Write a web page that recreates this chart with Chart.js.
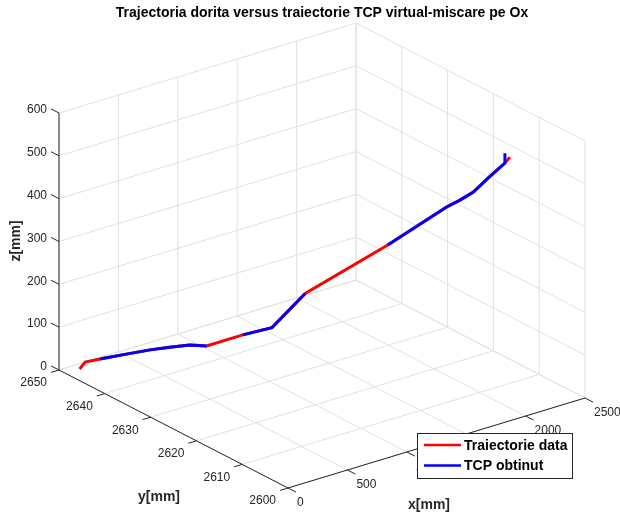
<!DOCTYPE html>
<html>
<head>
<meta charset="utf-8">
<script src="https://cdn.jsdelivr.net/npm/chart.js@4.4.1/dist/chart.umd.min.js"></script>
<style>
  html, body { margin: 0; padding: 0; background: #fff; }
  #wrap { width: 620px; height: 513px; }
</style>
</head>
<body>
<div id="wrap"><canvas id="myChart"></canvas></div>
<script>
// axis ticks (limits are first / last tick)
const xTicks = [0, 500, 1000, 1500, 2000, 2500];
const yTicks = [2600, 2610, 2620, 2630, 2640, 2650];
const zTicks = [0, 100, 200, 300, 400, 500, 600];

// Traiectorie data (desired path), mm
const xData = [120, 220, 330, 520, 690, 820, 950, 1030, 1335, 1565, 1845, 2085, 2260, 2300, 2340, 2390, 2435, 2450];
const yData = [2648.6, 2650, 2649.6, 2648.8, 2648, 2647.1, 2646.1, 2644.5, 2644.5, 2644.1, 2644.1, 2632.3, 2624, 2622.2, 2620.3, 2617.9, 2615.8, 2615.1];
const zData = [0, 0, 0, 0, 0, 0, 0, 0, 0, 0, 56, 214, 334, 356, 382, 428, 467, 483];

// TCP obtinut (measured path), mm
const xTcp = [120, 220, 330, 520, 690, 820, 950, 1030, 1335, 1565, 1845, 2085, 2260, 2300, 2340, 2390, 2435, 2435];
const yTcp = [2648.6, 2650, 2649.6, 2648.8, 2648, 2647.1, 2646.1, 2644.5, 2644.5, 2644.1, 2644.1, 2632.3, 2624, 2622.2, 2620.3, 2617.9, 2615.8, 2615.8];
const zTcp = [0, 0, 0, 0, 0, 0, 0, 0, 0, 0, 56, 214, 334, 356, 382, 428, 467, 490];

const seriesNames = ['Traiectorie data', 'TCP obtinut'];

// segments of the TCP line where the red line sits on top
const redOnTop = [0, 1, 7, 10];

// 3d view, fitted to the figure (screen units)
const view = { ox: 288, oy: 488, xx: 297, xy: -90, yx: -229, yy: -118, zy: -257 };
const X0 = xTicks[0], X1 = xTicks[xTicks.length - 1];
const Y0 = yTicks[0], Y1 = yTicks[yTicks.length - 1];
const Z0 = zTicks[0], Z1 = zTicks[zTicks.length - 1];

function project(x, y, z) {
  const nx = (x - X0) / (X1 - X0);
  const ny = (y - Y0) / (Y1 - Y0);
  const nz = (z - Z0) / (Z1 - Z0);
  return {
    x: view.ox + view.xx * nx + view.yx * ny,
    y: view.oy + view.xy * nx + view.yy * ny + view.zy * nz
  };
}

const FONT = '"Liberation Sans", Arial, Helvetica, sans-serif';
const AXIS = '#262626';
const GRID = '#e1e1e1';

const box3d = {
  id: 'box3d',
  beforeDatasetsDraw(chart) {
    const ctx = chart.ctx;
    const sx = chart.scales.x, sy = chart.scales.y;
    const P = (x, y, z) => { const p = project(x, y, z); return [sx.getPixelForValue(p.x), sy.getPixelForValue(p.y)]; };
    const line = (a, b) => {
      const p = P(...a), q = P(...b);
      ctx.beginPath(); ctx.moveTo(p[0], p[1]); ctx.lineTo(q[0], q[1]); ctx.stroke();
    };
    ctx.save();
    ctx.lineWidth = 1;
    ctx.strokeStyle = GRID;
    // back wall y = max
    xTicks.forEach(x => line([x, Y1, Z0], [x, Y1, Z1]));
    zTicks.forEach(z => line([X0, Y1, z], [X1, Y1, z]));
    // back wall x = max
    yTicks.forEach(y => line([X1, y, Z0], [X1, y, Z1]));
    zTicks.forEach(z => line([X1, Y0, z], [X1, Y1, z]));
    // floor
    xTicks.forEach(x => line([x, Y0, Z0], [x, Y1, Z0]));
    yTicks.forEach(y => line([X0, y, Z0], [X1, y, Z0]));

    // axes
    ctx.strokeStyle = AXIS;
    line([X0, Y1, Z0], [X0, Y1, Z1]);
    line([X0, Y0, Z0], [X0, Y1, Z0]);
    line([X0, Y0, Z0], [X1, Y0, Z0]);
    const tz = (Y1 - Y0) * 0.035, ty = (X1 - X0) * 0.027, tx = (Y1 - Y0) * 0.035;
    zTicks.forEach(z => line([X0, Y1, z], [X0, Y1 + tz, z]));
    yTicks.forEach(y => line([X0, y, Z0], [X0 - ty, y, Z0]));
    xTicks.forEach(x => line([x, Y0, Z0], [x, Y0 - tx, Z0]));

    // tick labels
    ctx.fillStyle = AXIS;
    ctx.font = '12px ' + FONT;
    ctx.textBaseline = 'middle';
    ctx.textAlign = 'right';
    zTicks.forEach(z => { const p = P(X0, Y1, z); ctx.fillText(String(z), p[0] - 12, p[1] - 3); });
    yTicks.forEach(y => { const p = P(X0, y, Z0); ctx.fillText(String(y), p[0] - 12, p[1] + 13); });
    ctx.textAlign = 'left';
    xTicks.forEach(x => { const p = P(x, Y0, Z0); ctx.fillText(String(x), p[0] + 9, p[1] + 15); });

    // axis titles
    ctx.font = 'bold 14px ' + FONT;
    ctx.textAlign = 'center';
    ctx.fillText('x[mm]', 429, 505);
    ctx.fillText('y[mm]', 159, 497);
    ctx.save();
    ctx.translate(16, 241);
    ctx.rotate(-Math.PI / 2);
    ctx.fillText('z[mm]', 0, 0);
    ctx.restore();

    // title
    ctx.font = 'bold 14px ' + FONT;
    ctx.fillStyle = '#000';
    ctx.fillText('Trajectoria dorita versus traiectorie TCP virtual-miscare pe Ox', 322, 13);
    ctx.restore();
  },
  afterDatasetsDraw(chart) {
    const ctx = chart.ctx;
    const ds = chart.data.datasets;
    ctx.save();
    ctx.fillStyle = '#fff';
    ctx.strokeStyle = AXIS;
    ctx.lineWidth = 1;
    ctx.fillRect(417.5, 433.5, 155, 45);
    ctx.strokeRect(417.5, 433.5, 155, 45);
    ctx.font = 'bold 14px ' + FONT;
    ctx.textAlign = 'left';
    ctx.textBaseline = 'middle';
    ds.forEach((d, i) => {
      const yy = 445 + i * 20.5;
      ctx.strokeStyle = d.legendColor;
      ctx.lineWidth = 2.5;
      ctx.beginPath(); ctx.moveTo(424, yy); ctx.lineTo(461, yy); ctx.stroke();
      ctx.fillStyle = '#000';
      ctx.fillText(d.label, 464, yy + 1);
    });
    ctx.restore();
  }
};

const pathData = xData.map((x, i) => project(x, yData[i], zData[i]));
const pathTcp = xTcp.map((x, i) => project(x, yTcp[i], zTcp[i]));

new Chart(document.getElementById('myChart'), {
  type: 'scatter',
  data: {
    datasets: [{
      label: seriesNames[0],
      data: pathData,
      showLine: true,
      borderColor: '#ff0000',
      legendColor: '#ff0000',
      borderWidth: 3,
      pointRadius: 0,
      order: 1
    }, {
      label: seriesNames[1],
      data: pathTcp,
      showLine: true,
      borderColor: '#0000ff',
      legendColor: '#0000ff',
      borderWidth: 3,
      pointRadius: 0,
      order: 0,
      segment: {
        borderColor: c => redOnTop.includes(c.p0DataIndex) ? 'rgba(0,0,0,0)' : '#0000ff'
      }
    }]
  },
  options: {
    responsive: true,
    maintainAspectRatio: false,
    animation: false,
    events: [],
    layout: { padding: 0 },
    plugins: { legend: { display: false }, tooltip: { enabled: false }, title: { display: false } },
    scales: {
      x: { type: 'linear', min: 0, max: 620, display: false },
      y: { type: 'linear', min: 0, max: 513, reverse: true, display: false }
    }
  },
  plugins: [box3d]
});
</script>
</body>
</html>
